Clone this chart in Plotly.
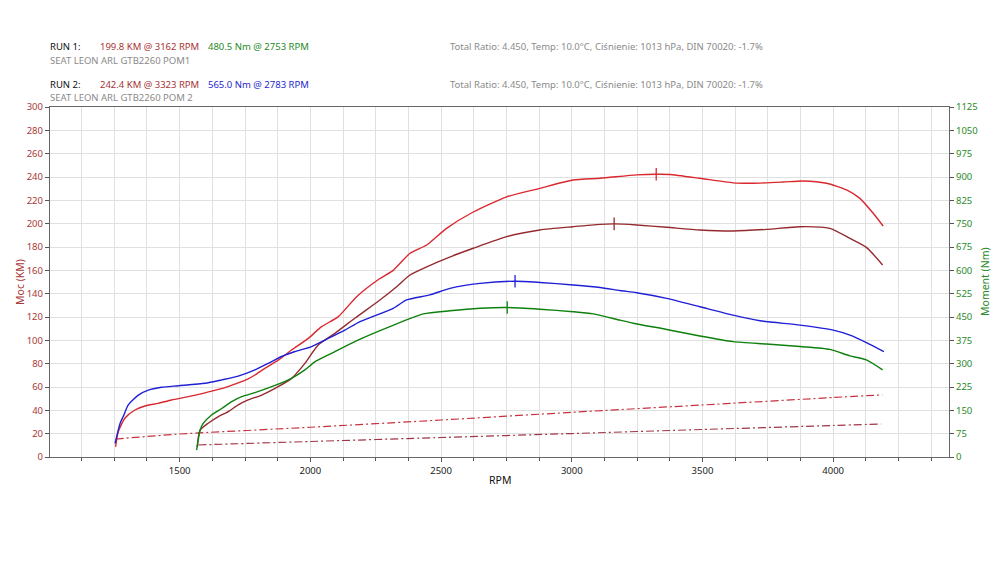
import plotly.graph_objects as go

# ---- data ----
rpm_p2 = [1255, 1265, 1291, 1329, 1367, 1418, 1469, 1533, 1597, 1622, 1673, 1724, 1762, 1788, 1826, 1877,
          1928, 1992, 2043, 2107, 2177, 2266, 2317, 2381, 2445, 2521, 2623, 2751, 2878, 3005, 3108, 3248,
          3323, 3375, 3490, 3617, 3694, 3809, 3885, 3975, 4051, 4102, 4153, 4191]
pow_p2 = [8.8, 21.7, 33.4, 40.3, 43.7, 46.0, 48.9, 51.7, 55.0, 56.5, 59.5, 63.5, 67.0, 70.3, 76.0, 83.0,
          91.7, 101.7, 111.7, 120.3, 137.4, 153.0, 160.0, 174.6, 181.7, 196.0, 210.0, 223.0, 230.3, 237.4, 238.9, 241.8,
          242.4, 242.2, 238.9, 235.0, 234.6, 235.7, 236.6, 234.6, 228.9, 221.7, 208.9, 198.0]

rpm_p1 = [1567, 1578, 1609, 1648, 1686, 1724, 1762, 1814, 1877, 1928, 1979, 2030, 2094, 2170, 2266, 2330,
          2381, 2445, 2521, 2623, 2751, 2878, 3005, 3108, 3162, 3248, 3363, 3490, 3617, 3745, 3873, 3987,
          4064, 4127, 4189]
pow_p1 = [8.6, 23.0, 28.9, 34.6, 38.9, 44.6, 48.9, 53.1, 60.3, 67.4, 80.3, 96.0, 106.0, 118.9, 134.6, 146.0,
          156.0, 163.0, 170.3, 178.9, 188.9, 194.6, 197.4, 199.4, 199.8, 198.9, 196.9, 194.6, 193.7, 195.1, 197.4, 196.0,
          187.4, 179.7, 164.6]

rpm_t2 = [1253, 1272, 1284, 1303, 1342, 1380, 1431, 1495, 1597, 1661, 1724, 1788, 1839, 1890, 1941, 2005,
          2056, 2132, 2190, 2317, 2368, 2457, 2534, 2649, 2783, 2878, 3005, 3108, 3184, 3248, 3363, 3490,
          3617, 3720, 3873, 4000, 4064, 4127, 4194]
tq_t2 = [44, 108, 130, 167, 199, 215, 224, 229, 237, 248, 260, 280, 301, 323, 339, 355,
         376, 408, 435, 478, 505, 521, 542, 558, 565, 561, 553, 545, 535, 528, 510, 483,
         456, 438, 424, 408, 392, 368, 339]

rpm_t1 = [1565, 1578, 1590, 1622, 1661, 1699, 1737, 1788, 1852, 1928, 1979, 2017, 2081, 2170, 2304, 2432,
          2534, 2649, 2753, 2878, 3005, 3082, 3184, 3235, 3363, 3490, 3617, 3745, 3873, 3987, 4064, 4127, 4189]
tq_t1 = [22, 86, 108, 135, 156, 178, 194, 207, 226, 253, 280, 306, 333, 371, 419, 460,
         470, 478, 480.5, 475, 467, 460, 440, 430, 410, 389, 371, 363, 355, 346, 325, 312, 280]

rpm_loss2 = [1255, 1500, 2000, 2500, 3000, 3500, 4000, 4189]
loss2 = [15.4, 19.7, 25.5, 31.7, 38.3, 44.6, 51.0, 53.3]
rpm_loss1 = [1571, 2000, 2500, 3000, 3500, 4000, 4184]
loss1 = [10.3, 13.3, 16.7, 20.1, 23.6, 27.0, 28.3]

peak_p2 = (3323, 242.4)
peak_p1 = (3162, 199.8)
peak_t2 = (2783, 565.0)
peak_t1 = (2753, 480.5)

C_P2 = "#d9282f"
C_P1 = "#952a2e"
C_T2 = "#1f1fd6"
C_T1 = "#0e800e"
C_L2 = "#c9303f"
C_L1 = "#a03545"
C_AXL = "#a83838"
C_AXR = "#2a8a2a"

fig = go.Figure()

def line(x, y, color, axis="y", dash="solid", width=1.4):
    fig.add_trace(go.Scatter(x=x, y=y, mode="lines", yaxis=axis,
                             line=dict(color=color, width=width, dash=dash, shape="spline", smoothing=0.6),
                             showlegend=False, hoverinfo="skip"))

line(rpm_loss1, loss1, C_L1, dash="8px,3px,2px,3px", width=1.2)
line(rpm_loss2, loss2, C_L2, dash="8px,3px,2px,3px", width=1.2)
line(rpm_t1, tq_t1, C_T1, axis="y2")
line(rpm_t2, tq_t2, C_T2, axis="y2")
line(rpm_p1, pow_p1, C_P1)
line(rpm_p2, pow_p2, C_P2)

for (px, py), col, ax in [(peak_p2, C_P2, "y"), (peak_p1, C_P1, "y"), (peak_t2, C_T2, "y2"), (peak_t1, C_T1, "y2")]:
    fig.add_trace(go.Scatter(x=[px], y=[py], mode="markers", yaxis=ax,
                             marker=dict(symbol="line-ns", size=9, line=dict(color=col, width=1.3)),
                             showlegend=False, hoverinfo="skip"))

FONT = "Noto Sans"
FS = 9.5
L, R, T, B = 50, 949, 107, 457

def px2paper(px, py):
    return (px - L) / (R - L), (B - py) / (B - T)

def ann(px, py, text, color, size=FS):
    x, y = px2paper(px - 2, py)
    fig.add_annotation(x=x, y=y, xref="paper", yref="paper",
                       text=text, showarrow=False, xanchor="left", yanchor="middle",
                       font=dict(family=FONT, size=size, color=color))

GRAY = "#8a8a8a"
ann(50, 47, "RUN 1:", "#111111")
ann(100, 47, "199.8 KM @ 3162 RPM", "#a83434")
ann(208, 47, "480.5 Nm @ 2753 RPM", "#1e8a1e")
ann(450, 47, "Total Ratio: 4.450, Temp: 10.0°C, Ciśnienie: 1013 hPa, DIN 70020: -1.7%", GRAY)
ann(50, 61, "SEAT LEON ARL GTB2260 POM1", GRAY)
ann(50, 84, "RUN 2:", "#111111")
ann(100, 84, "242.4 KM @ 3323 RPM", "#a83434")
ann(208, 84, "565.0 Nm @ 2783 RPM", "#1f1fd0")
ann(450, 84, "Total Ratio: 4.450, Temp: 10.0°C, Ciśnienie: 1013 hPa, DIN 70020: -1.7%", GRAY)
ann(50, 98, "SEAT LEON ARL GTB2260 POM 2", GRAY)

# axis titles placed as annotations
for (px, py, text, color, angle) in [(20, 282, "Moc (KM)", C_AXL, -90),
                                      (985, 282, "Moment (Nm)", C_AXR, -90),
                                      (500, 480, "RPM", "#111111", 0)]:
    x, y = px2paper(px, py)
    fig.add_annotation(x=x, y=y, xref="paper", yref="paper", text=text, showarrow=False,
                       xanchor="center", yanchor="middle", textangle=angle,
                       font=dict(family=FONT, size=10.5, color=color))

fig.update_layout(
    width=1000, height=562,
    margin=dict(l=L, r=1000 - R, t=T, b=562 - B),
    paper_bgcolor="white", plot_bgcolor="white",
    font=dict(family=FONT, size=FS),
    xaxis=dict(range=[1004, 4443], tick0=0, dtick=500, ticks="outside", ticklen=4, tickcolor="#555",
               showgrid=True, gridcolor="#e0e0e0", gridwidth=1, automargin=False,
               minor=dict(dtick=125, tick0=0, ticks="outside", ticklen=3, tickcolor="#555",
                          showgrid=True, gridcolor="#e0e0e0"),
               showline=True, linecolor="#666", linewidth=1.2, mirror=True,
               zeroline=False, tickfont=dict(color="#222", size=FS)),
    yaxis=dict(range=[0, 300], tick0=0, dtick=20, ticks="outside", ticklen=4, tickcolor="#555",
               showgrid=True, gridcolor="#e0e0e0", zeroline=False, automargin=False,
               showline=True, linecolor="#666", linewidth=1.2,
               tickfont=dict(color=C_AXL, size=FS)),
    yaxis2=dict(range=[0, 1125], tick0=0, dtick=75, overlaying="y", side="right",
                ticks="outside", ticklen=4, tickcolor="#555", showgrid=False, zeroline=False,
                showline=True, linecolor="#666", linewidth=1.2, automargin=False,
                tickfont=dict(color=C_AXR, size=FS)),
)

fig.write_html("out.html")
